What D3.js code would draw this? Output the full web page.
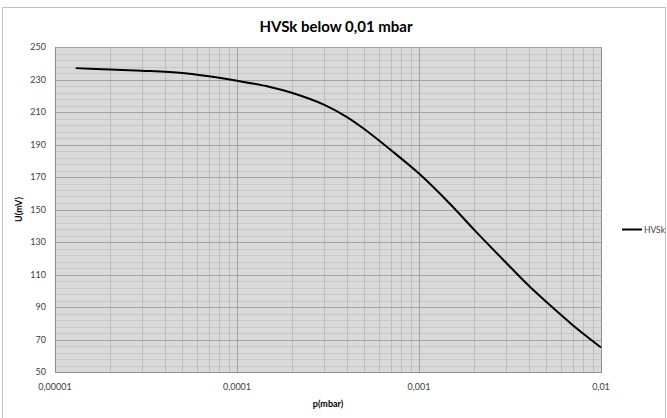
<!DOCTYPE html>
<html>
<head>
<meta charset="utf-8">
<script src="https://cdn.jsdelivr.net/npm/d3@7"></script>
<style>
  body { margin: 0; background: #fff; }
  svg text { font-family: Lato, "Open Sans", sans-serif; }
</style>
</head>
<body>
<div class="chart"></div>
<script>
const width = 667;
const height = 418;
const margin = ({top: 47, right: 66, bottom: 46, left: 55});

// data
const pressure = [1.3e-5, 2e-5, 3e-5, 5e-5, 7e-5, 1e-4, 1.5e-4, 2e-4, 3e-4, 4e-4,
	5e-4, 7e-4, 1e-3, 1.5e-3, 2e-3, 3e-3, 4e-3, 5e-3, 7e-3, 1e-2];
const voltage = [237, 236.2, 235.4, 234, 232, 229.2, 225.6, 221.8, 214.5, 207,
	199.5, 186.6, 172.1, 152.8, 137.8, 117.4, 103.2, 93.2, 78.8, 65.1];
const xTicks = [1e-5, 1e-4, 1e-3, 1e-2];
const xTickLabels = ['0,00001', '0,0001', '0,001', '0,01'];
const yTicks = [50, 70, 90, 110, 130, 150, 170, 190, 210, 230, 250];
const seriesName = 'HVSk';

const data = pressure.map((p, i) => ({p: p, u: voltage[i]}));

const xScale = d3.scaleLog()
	.domain([1e-5, 1e-2])
	.range([margin.left, width - margin.right]);

const yScale = d3.scaleLinear()
	.domain([50, 250])
	.range([height - margin.bottom, margin.top]);

const svg = d3.select('.chart').append('svg')
	.attr('width', width)
	.attr('height', height);

// outer frame
svg.append('rect')
	.attr('x', 2.5)
	.attr('y', 7.5)
	.attr('width', width - 4)
	.attr('height', height)
	.attr('fill', 'none')
	.attr('stroke', '#c0c0c0');

// plot background
svg.append('rect')
	.attr('x', margin.left)
	.attr('y', margin.top)
	.attr('width', xScale.range()[1] - margin.left)
	.attr('height', yScale.range()[0] - margin.top)
	.attr('fill', '#d9d9d9');

// minor horizontal grid
svg.append('g')
	.selectAll('line')
	.data(d3.range(54, 250, 4).filter(v => (v - 50) % 20 !== 0))
	.enter()
	.append('line')
	.attr('x1', margin.left)
	.attr('x2', xScale.range()[1])
	.attr('y1', d => Math.round(yScale(d)) + 0.5)
	.attr('y2', d => Math.round(yScale(d)) + 0.5)
	.attr('stroke', '#c8c8c8');

// minor vertical grid
const xMinor = [];
xTicks.slice(0, 3).forEach(t => {
	for (let k = 2; k <= 9; k++) xMinor.push(t * k);
});
svg.append('g')
	.selectAll('line')
	.data(xMinor)
	.enter()
	.append('line')
	.attr('x1', d => Math.round(xScale(d)) + 0.5)
	.attr('x2', d => Math.round(xScale(d)) + 0.5)
	.attr('y1', margin.top)
	.attr('y2', yScale.range()[0])
	.attr('stroke', '#bdbdbd');

// major grid
svg.append('g')
	.selectAll('line')
	.data(yTicks)
	.enter()
	.append('line')
	.attr('x1', margin.left)
	.attr('x2', xScale.range()[1])
	.attr('y1', d => Math.round(yScale(d)) + 0.5)
	.attr('y2', d => Math.round(yScale(d)) + 0.5)
	.attr('stroke', '#a3a3a3');

svg.append('g')
	.selectAll('line')
	.data(xTicks)
	.enter()
	.append('line')
	.attr('x1', d => Math.round(xScale(d)) + 0.5)
	.attr('x2', d => Math.round(xScale(d)) + 0.5)
	.attr('y1', margin.top)
	.attr('y2', yScale.range()[0])
	.attr('stroke', '#a3a3a3');

// axis lines
svg.append('path')
	.attr('d', `M${margin.left + 0.5},${margin.top}V${Math.round(yScale(50)) + 0.5}H${Math.round(xScale(1e-2)) + 0.5}V${margin.top}`)
	.attr('fill', 'none')
	.attr('stroke', '#8c8c8c');

// the curve
const line = d3.line()
	.x(d => xScale(d.p))
	.y(d => yScale(d.u))
	.curve(d3.curveCatmullRom.alpha(0.5));

svg.append('path')
	.datum(data)
	.attr('d', line)
	.attr('fill', 'none')
	.attr('stroke', '#000')
	.attr('stroke-width', 2);

// tick labels
svg.append('g')
	.selectAll('text')
	.data(yTicks)
	.enter()
	.append('text')
	.attr('x', margin.left - 9)
	.attr('y', d => yScale(d) + 3)
	.attr('text-anchor', 'end')
	.attr('font-size', 9)
	.attr('fill', '#404040')
	.text(d => d);

svg.append('g')
	.selectAll('text')
	.data(xTicks)
	.enter()
	.append('text')
	.attr('x', d => xScale(d))
	.attr('y', yScale(50) + 18)
	.attr('text-anchor', 'middle')
	.attr('font-size', 9)
	.attr('fill', '#404040')
	.text((d, i) => xTickLabels[i]);

// titles
svg.append('text')
	.attr('x', 336)
	.attr('y', 32)
	.attr('text-anchor', 'middle')
	.attr('font-size', 15)
	.attr('font-weight', 'bold')
	.attr('fill', '#000')
	.text('HVSk below 0,01 mbar');

svg.append('text')
	.attr('x', 328)
	.attr('y', 407)
	.attr('text-anchor', 'middle')
	.attr('font-size', 9)
	.attr('font-weight', 'bold')
	.attr('fill', '#000')
	.text('p(mbar)');

svg.append('text')
	.attr('transform', `translate(22, ${(margin.top + yScale(50)) / 2}) rotate(-90)`)
	.attr('text-anchor', 'middle')
	.attr('font-size', 9)
	.attr('font-weight', 'bold')
	.attr('fill', '#000')
	.text('U(mV)');

// legend
svg.append('line')
	.attr('x1', 622)
	.attr('x2', 642)
	.attr('y1', 229.5)
	.attr('y2', 229.5)
	.attr('stroke', '#000')
	.attr('stroke-width', 2);

svg.append('text')
	.attr('x', 644)
	.attr('y', 232.5)
	.attr('font-size', 8.5)
	.attr('fill', '#404040')
	.text(seriesName);
</script>
</body>
</html>
